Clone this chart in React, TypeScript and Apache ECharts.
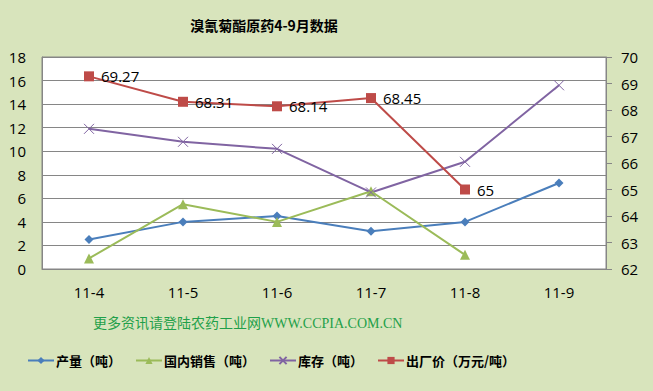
import React, { useEffect, useRef } from "react";
import * as echarts from "echarts";

const categories = ["11-4", "11-5", "11-6", "11-7", "11-8", "11-9"];
const production = [2.5, 4.0, 4.5, 3.2, 4.0, 7.3];
const domesticSales = [0.9, 5.5, 4.0, 6.6, 1.2, null];
const inventory = [11.9, 10.8, 10.2, 6.5, 9.1, 15.6];
const factoryPrice = [69.27, 68.31, 68.14, 68.45, 65, null];
const seriesNames = ["产量（吨）", "国内销售（吨）", "库存（吨）", "出厂价（万元/吨）"];
const titleText = "溴氰菊酯原药4-9月数据";
const watermarkText = "更多资讯请登陆农药工业网WWW.CCPIA.COM.CN";

const latinFont = "'Open Sans', 'Noto Sans', sans-serif";
const cjkFont = "'Noto Sans CJK SC', sans-serif";

export default function App() {
  const ref = useRef<HTMLDivElement>(null);
  useEffect(() => {
    if (!ref.current) return;
    const chart = echarts.init(ref.current, undefined, { renderer: "svg" });
    const axisLabel = { color: "#000", fontSize: 15, fontFamily: latinFont };
    chart.setOption({
      animation: false,
      backgroundColor: "#D8E4BC",
      title: {
        text: titleText,
        left: 259,
        top: 13,
        textAlign: "center",
        textStyle: { fontSize: 14, fontWeight: "bold", color: "#000", fontFamily: cjkFont },
      },
      graphic: [
        {
          type: "text",
          left: 93,
          top: 316,
          style: {
            text: watermarkText,
            fill: "#1FA04A",
            font: "14px 'Liberation Serif', 'Noto Sans CJK SC', serif",
          },
        },
      ],
      legend: {
        left: 22,
        top: 349,
        itemWidth: 26,
        itemHeight: 9,
        itemGap: 14,
        textStyle: { fontSize: 13, fontWeight: "bold", color: "#000", fontFamily: cjkFont, padding: [0, 0, 0, -3] },
        data: seriesNames,
      },
      grid: {
        left: 42,
        right: 47,
        top: 57,
        bottom: 122,
        show: true,
        backgroundColor: "#fff",
        borderColor: "#868686",
        borderWidth: 1,
      },
      xAxis: {
        type: "category",
        data: categories,
        boundaryGap: true,
        axisLine: { lineStyle: { color: "#868686" } },
        axisTick: { show: false },
        axisLabel: { ...axisLabel, margin: 15 },
      },
      yAxis: [
        {
          type: "value",
          min: 0,
          max: 18,
          interval: 2,
          axisLine: { show: true, lineStyle: { color: "#868686" } },
          axisTick: { show: false },
          axisLabel: { ...axisLabel, margin: 16 },
          splitLine: { lineStyle: { color: "#868686", width: 1 } },
        },
        {
          type: "value",
          min: 62,
          max: 70,
          interval: 1,
          position: "right",
          axisLine: { show: true, lineStyle: { color: "#868686" } },
          axisTick: { show: true, length: 6, lineStyle: { color: "#868686" } },
          axisLabel: { ...axisLabel, margin: 15 },
          splitLine: { show: false },
        },
      ],
      series: [
        {
          name: seriesNames[0],
          type: "line",
          data: production,
          symbol: "diamond",
          symbolSize: 9,
          color: "#4A7EBB",
          lineStyle: { width: 2 },
        },
        {
          name: seriesNames[1],
          type: "line",
          data: domesticSales,
          symbol: "triangle",
          symbolSize: 10,
          color: "#9BBB59",
          lineStyle: { width: 2 },
        },
        {
          name: seriesNames[2],
          type: "line",
          data: inventory,
          symbol: "path://M0,0L10,10M10,0L0,10",
          symbolSize: 10,
          color: "#8064A2",
          itemStyle: { color: "#8064A2", borderColor: "#8064A2", borderWidth: 1 },
          lineStyle: { width: 2 },
        },
        {
          name: seriesNames[3],
          type: "line",
          yAxisIndex: 1,
          data: factoryPrice,
          symbol: "rect",
          symbolSize: 10,
          color: "#BE4B48",
          lineStyle: { width: 2 },
          label: {
            show: true,
            position: "right",
            distance: 7,
            color: "#000",
            fontSize: 15,
            fontFamily: latinFont,
          },
        },
      ],
    });
    return () => chart.dispose();
  }, []);
  return (
    <div
      ref={ref}
      style={{ position: "fixed", left: 0, top: 0, width: 653, height: 391 }}
    />
  );
}
